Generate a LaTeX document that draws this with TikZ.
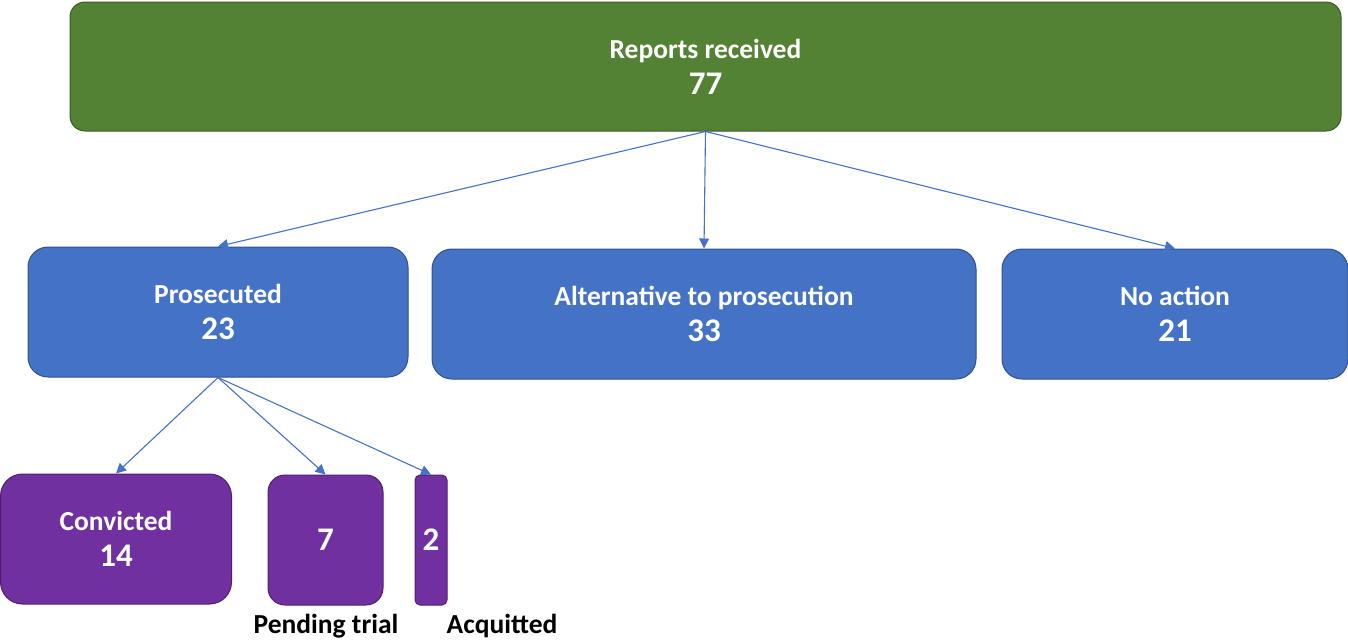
\documentclass[tikz,border=0pt]{standalone}
\usepackage{fontspec}
\setmainfont{Carlito}
\usetikzlibrary{arrows.meta}
\definecolor{grn}{HTML}{548235}
\definecolor{grnd}{HTML}{3A5C24}
\definecolor{blu}{HTML}{4472C4}
\definecolor{blud}{HTML}{2F528F}
\definecolor{pur}{HTML}{7030A0}
\definecolor{purd}{HTML}{4E1F72}
\tikzset{
  box/.style={draw, line width=1pt, inner sep=0pt, align=center, text=white,
    font=\bfseries\fontsize{27.5}{36}\selectfont},
  greenbox/.style={box, fill=grn, draw=grnd, rounded corners=15pt},
  bluebox/.style={box, fill=blu, draw=blud, rounded corners=20pt},
  purbox/.style={box, fill=pur, draw=purd},
  arr/.style={draw=blu, line width=1.1pt, -{Triangle[length=10pt,width=10pt]}},
  lbl/.style={font=\bfseries\fontsize{27.5}{30}\selectfont, inner sep=0pt}
}
\newcommand{\twoline}[2]{#1\\{\fontsize{33}{36}\selectfont #2}}
\begin{document}
\begin{tikzpicture}[x=1pt,y=-1pt]
\useasboundingbox (0,0) rectangle (1348,640);
\node[greenbox, minimum width=1271pt, minimum height=129pt] (top) at (705.5,66.5) {\twoline{Reports received}{77}};
\node[bluebox, minimum width=380pt, minimum height=130pt] (pros) at (218,312) {\twoline{Prosecuted}{23}};
\node[bluebox, minimum width=544pt, minimum height=130pt] (alt) at (704,314) {\twoline{Alternative to prosecution}{33}};
\node[bluebox, minimum width=346pt, minimum height=130pt] (none) at (1175,314) {\twoline{No action}{21}};
\node[purbox, rounded corners=22pt, minimum width=231pt, minimum height=130pt] (conv) at (116,539) {\twoline{Convicted}{14}};
\node[purbox, rounded corners=17pt, minimum width=115pt, minimum height=130pt] (pend) at (325.5,540) {\fontsize{33}{36}\selectfont 7};
\node[purbox, rounded corners=5pt, minimum width=32pt, minimum height=130pt] (acq) at (431,540) {\fontsize{33}{36}\selectfont 2};
\node[lbl] (pendl) at (326,626) {Pending trial};
\node[lbl] (acql) at (502,626) {Acquitted};
\draw[arr] (top.south) -- (pros.north);
\draw[arr] (top.south) -- (alt.north);
\draw[arr] (top.south) -- (none.north);
\draw[arr] (pros.south) -- (conv.north);
\draw[arr] (pros.south) -- (pend.north);
\draw[arr] (pros.south) -- (acq.north);
\end{tikzpicture}
\end{document}
